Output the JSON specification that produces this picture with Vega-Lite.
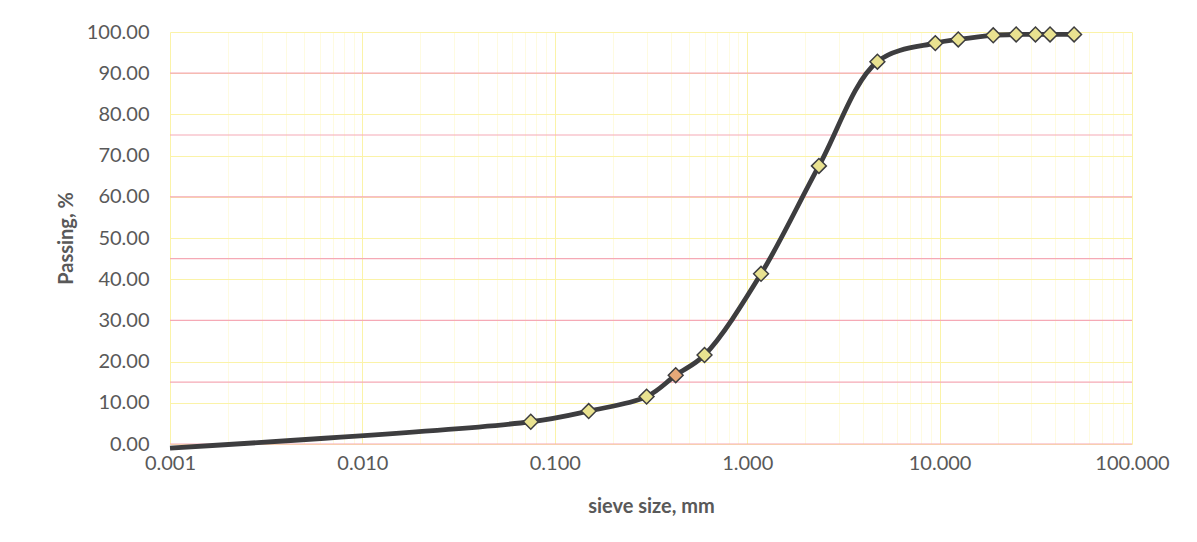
{
  "$schema": "https://vega.github.io/schema/vega-lite/v6.json",
  "width": 962,
  "height": 412,
  "autosize": {"type": "none"},
  "padding": {"left": 170, "top": 32, "right": 65, "bottom": 98},
  "background": "white",
  "config": {
    "view": {"stroke": null},
    "font": "Lato"
  },
  "datasets": {
    "sieve": [
      {"size": 0.075, "passing": 5.4},
      {"size": 0.15, "passing": 8.0},
      {"size": 0.3, "passing": 11.5},
      {"size": 0.425, "passing": 16.7},
      {"size": 0.6, "passing": 21.6},
      {"size": 1.18, "passing": 41.3},
      {"size": 2.36, "passing": 67.5},
      {"size": 4.75, "passing": 92.8},
      {"size": 9.5, "passing": 97.3},
      {"size": 12.5, "passing": 98.2},
      {"size": 19, "passing": 99.2},
      {"size": 25, "passing": 99.4},
      {"size": 31.5, "passing": 99.4},
      {"size": 37.5, "passing": 99.4},
      {"size": 50, "passing": 99.4}
    ],
    "curve": [
      {"size": 0.001, "passing": -1.0},
      {"size": 0.075, "passing": 5.4},
      {"size": 0.15, "passing": 8.0},
      {"size": 0.3, "passing": 11.5},
      {"size": 0.425, "passing": 16.7},
      {"size": 0.6, "passing": 21.6},
      {"size": 1.18, "passing": 41.3},
      {"size": 2.36, "passing": 67.5},
      {"size": 4.75, "passing": 92.8},
      {"size": 9.5, "passing": 97.3},
      {"size": 12.5, "passing": 98.2},
      {"size": 19, "passing": 99.2},
      {"size": 25, "passing": 99.4},
      {"size": 31.5, "passing": 99.4},
      {"size": 37.5, "passing": 99.4},
      {"size": 50, "passing": 99.4}
    ],
    "pinkgrid": [
      {"passing": 0}, {"passing": 15}, {"passing": 30}, {"passing": 45},
      {"passing": 60}, {"passing": 75}, {"passing": 90}
    ]
  },
  "layer": [
    {
      "data": {"name": "pinkgrid"},
      "mark": {"type": "rule", "color": "#f5a9b5", "strokeWidth": 1.2},
      "encoding": {
        "y": {"field": "passing", "type": "quantitative", "scale": {"domain": [0, 100]}}
      }
    },
    {
      "data": {"name": "curve"},
      "mark": {"type": "line", "interpolate": "catmull-rom", "color": "#3d3d3f", "strokeWidth": 4.8, "clip": false},
      "encoding": {
        "x": {
          "field": "size", "type": "quantitative",
          "scale": {"type": "log", "domain": [0.001, 100], "nice": false},
          "axis": {
            "title": "sieve size, mm",
            "values": [0.001, 0.002, 0.003, 0.004, 0.005, 0.006, 0.007, 0.008, 0.009,
                       0.01, 0.02, 0.03, 0.04, 0.05, 0.06, 0.07, 0.08, 0.09,
                       0.1, 0.2, 0.3, 0.4, 0.5, 0.6, 0.7, 0.8, 0.9,
                       1, 2, 3, 4, 5, 6, 7, 8, 9,
                       10, 20, 30, 40, 50, 60, 70, 80, 90, 100],
            "format": ".3f",
            "labelExpr": "indexof(['0.001','0.010','0.100','1.000','10.000','100.000'], datum.label) >= 0 ? datum.label : ''",
            "grid": true,
            "gridColor": "#fbf3a8",
            "gridWidth": 1,
            "gridOpacity": {"condition": {"test": "indexof([0.001,0.01,0.1,1,10,100], datum.value) >= 0", "value": 1}, "value": 0.35},
            "domain": false,
            "ticks": false,
            "labelFont": "Lato",
            "labelFontSize": 20,
            "labelColor": "#595959",
            "labelPadding": 9,
            "labelFlush": false,
            "titleFont": "Lato",
            "titleFontSize": 20,
            "titleFontWeight": "bold",
            "titleColor": "#595959",
            "titlePadding": 23
          }
        },
        "y": {
          "field": "passing", "type": "quantitative",
          "scale": {"domain": [0, 100], "nice": false},
          "axis": {
            "title": "Passing, %",
            "values": [0, 10, 20, 30, 40, 50, 60, 70, 80, 90, 100],
            "format": ".2f",
            "grid": true,
            "gridColor": "#fbf3a8",
            "gridWidth": 1,
            "domain": false,
            "ticks": false,
            "labelFont": "Lato",
            "labelFontSize": 20,
            "labelColor": "#595959",
            "labelPadding": 21,
            "titleFont": "Lato",
            "titleFontSize": 20,
            "titleFontWeight": "bold",
            "titleColor": "#595959",
            "titlePadding": 10
          }
        }
      }
    },
    {
      "data": {"name": "sieve"},
      "mark": {"type": "point", "shape": "diamond", "filled": true, "size": 220, "stroke": "#3d3d3f", "strokeWidth": 1.5, "opacity": 1},
      "encoding": {
        "x": {"field": "size", "type": "quantitative", "scale": {"type": "log", "domain": [0.001, 100], "nice": false}},
        "y": {"field": "passing", "type": "quantitative"},
        "fill": {
          "condition": {"test": "datum.size == 0.425", "value": "#e6a878"},
          "value": "#e9e290"
        }
      }
    }
  ]
}
